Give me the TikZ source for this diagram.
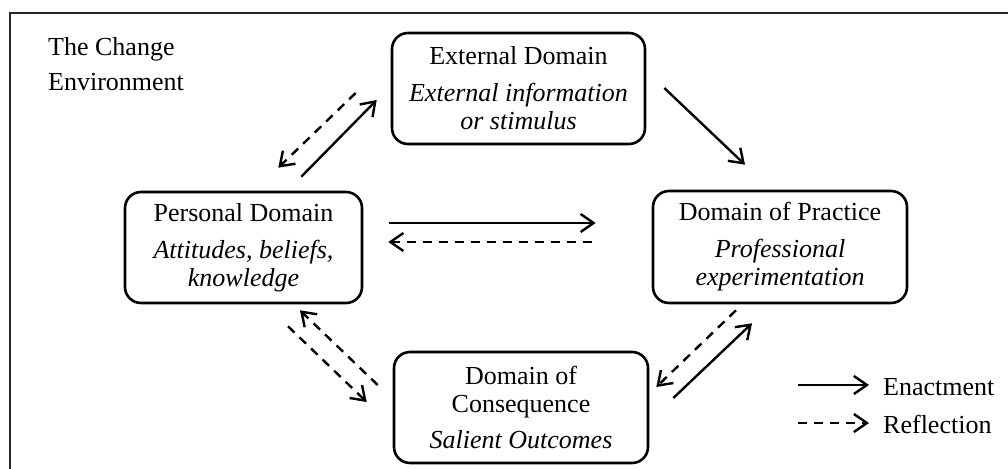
\documentclass[tikz,border=0pt]{standalone}
\usepackage{fontspec}
\setmainfont{Liberation Serif}
\usetikzlibrary{arrows.meta,calc}
\begin{document}
\begin{tikzpicture}[x=1pt,y=-1pt,
  txt/.style={font=\fontsize{26}{28}\selectfont},
  box/.style={draw, line width=2.6pt, rounded corners=16pt, inner sep=0pt,
    align=center, txt},
  enact/.style={line width=2.4pt, -{Straight Barb[length=13pt,width=18pt]}},
  reflect/.style={enact, dash pattern=on 9pt off 7pt}]
\useasboundingbox (0,0) rectangle (1008,468);
% frame (cropped at right and bottom)
\draw[line width=1.6pt, black!85] (10,490) -- (10,13) -- (1030,13);
\node[anchor=north west, inner sep=0pt, align=left, font=\fontsize{26}{35}\selectfont] (title) at (48,37) {The Change\\Environment};
% boxes
\node[box, minimum width=253pt, minimum height=111pt] (ext) at (518.5,88.5)
  {External Domain\\[9pt]\textit{External information}\\\textit{or stimulus}};
\node[box, minimum width=237pt, minimum height=111pt] (pers) at (243.5,247.5)
  {Personal Domain\\[9pt]\textit{Attitudes, beliefs,}\\\textit{knowledge}};
\node[box, minimum width=254pt, minimum height=112pt] (prac) at (780,247)
  {Domain of Practice\\[9pt]\textit{Professional}\\\textit{experimentation}};
\node[box, minimum width=254pt, minimum height=111pt] (cons) at (521,407.5)
  {Domain of\\Consequence\\[8pt]\textit{Salient Outcomes}};
% connectors
\draw[enact] ([shift={(-62,-14)}]pers.north east) -- ([shift={(-14,11.5)}]ext.west);
\draw[reflect] ([shift={(-35,4.5)}]ext.west) -- ([shift={(-85,-23)}]pers.north east);
\draw[enact] ([shift={(18,-0.5)}]ext.east) -- ([shift={(-35,-25)}]prac.north);
\draw[enact] ([shift={(26,-24.5)}]pers.east) -- ([shift={(-56,-24)}]prac.west);
\draw[reflect] ([shift={(-60,-5)}]prac.west) -- ([shift={(25,-5.5)}]pers.east);
\draw[reflect] ([shift={(-15,-22.5)}]cons.west) -- ([shift={(56.5,6)}]pers.south);
\draw[reflect] ([shift={(44.5,22)}]pers.south) -- ([shift={(-26,-5.5)}]cons.west);
\draw[reflect] ([shift={(-44,6)}]prac.south) -- ([shift={(7,-20.5)}]cons.east);
\draw[enact] ([shift={(24,-9.5)}]cons.east) -- ([shift={(-28,19)}]prac.south);
% legend
\node[anchor=base west, inner sep=0pt, txt] (lenact) at (883,395) {Enactment};
\node[anchor=base west, inner sep=0pt, txt] (lrefl) at (883,433) {Reflection};
\coordinate (le1) at (798,385);
\coordinate (le2) at (798,423);
\draw[enact] (le1) -- ++(71,0);
\draw[reflect] (le2) -- ++(71,0);
\end{tikzpicture}
\end{document}
